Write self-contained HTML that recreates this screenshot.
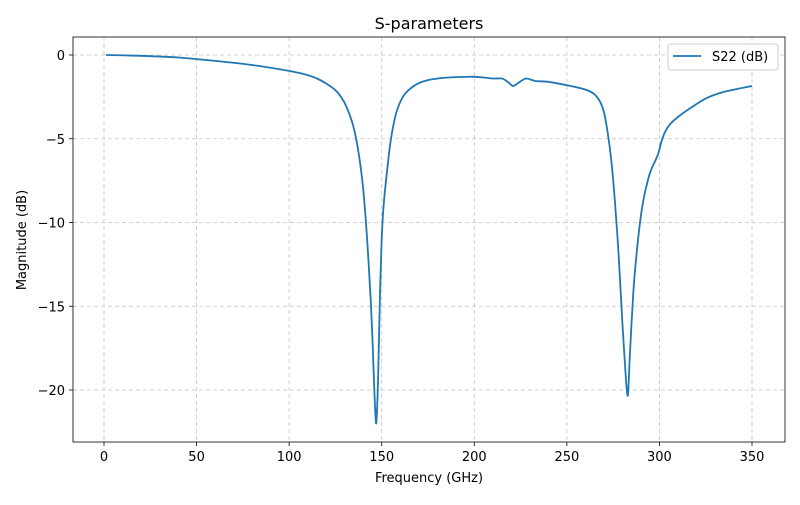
<!DOCTYPE html>
<html><head><meta charset="utf-8"><style>
body{margin:0;background:#fff}
svg text{font-family:"DejaVu Sans","Liberation Sans",sans-serif;fill:#000}
</style></head><body>
<svg id="chart" width="800" height="500" xmlns="http://www.w3.org/2000/svg">
<rect width="800" height="500" fill="#fff"/>
<g id="grid"></g>
<path id="line" fill="none" stroke="#1f77b4" stroke-width="1.8" stroke-linejoin="round"/>
<rect x="73" y="37" width="712" height="405" fill="none" stroke="#000" stroke-width="0.8"/>
<g id="ticks"></g>
<text x="429" y="29" font-size="16" text-anchor="middle">S-parameters</text>
<text x="429" y="482" font-size="13" text-anchor="middle">Frequency (GHz)</text>
<text transform="translate(26,240) rotate(-90)" font-size="13" text-anchor="middle">Magnitude (dB)</text>
<g>
<rect x="668" y="44" width="110" height="26" rx="3" fill="#fff" stroke="#ccc"/>
<line x1="673" y1="56" x2="701" y2="56" stroke="#1f77b4" stroke-width="1.8"/>
<text x="712" y="61" font-size="13">S22 (dB)</text>
</g>
</svg>
<script>
const freq=[1,20,40,60,80,100,110,115,120,125,128,131,134,136,138,140,142,144,145,146,147,148,149,150,151,153,155,158,162,168,175,185,200,210,215,218,221,224,228,233,240,250,258,262,265,268,270,272,274,276,278,280,282,283,284,286,288,290,292,295,299,301,303,306,310,315,325,335,350];
const s22=[0,-0.05,-0.15,-0.35,-0.6,-0.95,-1.2,-1.4,-1.7,-2.1,-2.5,-3.1,-4.0,-4.9,-6.2,-8,-10.8,-14.5,-17,-20,-22,-19.5,-14.5,-11,-9,-6.8,-5,-3.4,-2.4,-1.8,-1.5,-1.35,-1.3,-1.4,-1.4,-1.6,-1.85,-1.65,-1.4,-1.55,-1.6,-1.8,-2.0,-2.15,-2.35,-2.8,-3.4,-4.6,-6.3,-8.8,-12,-16,-19.5,-20.3,-18,-14,-11.5,-9.6,-8.3,-7,-6,-5.2,-4.6,-4.1,-3.7,-3.3,-2.6,-2.2,-1.85];
const xTicks=[0,50,100,150,200,250,300,350];
const yTicks=[0,-5,-10,-15,-20];
const X=f=>104+f*648/350, Y=v=>55-v*16.75;
const NS="http://www.w3.org/2000/svg";
const g=document.getElementById('grid'),t=document.getElementById('ticks');
function mk(p,tag,a){const e=document.createElementNS(NS,tag);for(const k in a)e.setAttribute(k,a[k]);p.appendChild(e);return e;}
xTicks.forEach(v=>{const x=X(v);
const l=mk(g,'line',{x1:x,x2:x,y1:37,y2:442,stroke:'#c4c4c4','stroke-dasharray':'4,3','stroke-width':0.8});


mk(t,'line',{x1:x,x2:x,y1:442,y2:446,stroke:'#000','stroke-width':0.8});
const tx=mk(t,'text',{x:x,y:461,'font-size':13,'text-anchor':'middle'});tx.textContent=v;

});
yTicks.forEach(v=>{const y=Y(v);
const l=mk(g,'line',{x1:73,x2:785,y1:y,y2:y,stroke:'#c4c4c4','stroke-dasharray':'4,3','stroke-width':0.8});


mk(t,'line',{x1:69,x2:73,y1:y,y2:y,stroke:'#000','stroke-width':0.8});
const tx=mk(t,'text',{x:65,y:y+5,'font-size':13,'text-anchor':'end'});tx.textContent=v===0?'0':'\u2212'+Math.abs(v);

});
const P=freq.map((f,i)=>[X(f),Y(s22[i])]);
let d='M'+P[0][0].toFixed(1)+','+P[0][1].toFixed(1);
for(let i=0;i<P.length-1;i++){const p0=P[Math.max(0,i-1)],p1=P[i],p2=P[i+1],p3=P[Math.min(P.length-1,i+2)];const k=1/6*0.8;
d+='C'+(p1[0]+(p2[0]-p0[0])*k).toFixed(1)+','+(p1[1]+(p2[1]-p0[1])*k).toFixed(1)+' '+(p2[0]-(p3[0]-p1[0])*k).toFixed(1)+','+(p2[1]-(p3[1]-p1[1])*k).toFixed(1)+' '+p2[0].toFixed(1)+','+p2[1].toFixed(1);}
document.getElementById('line').setAttribute('d',d);
</script>
</body></html>
